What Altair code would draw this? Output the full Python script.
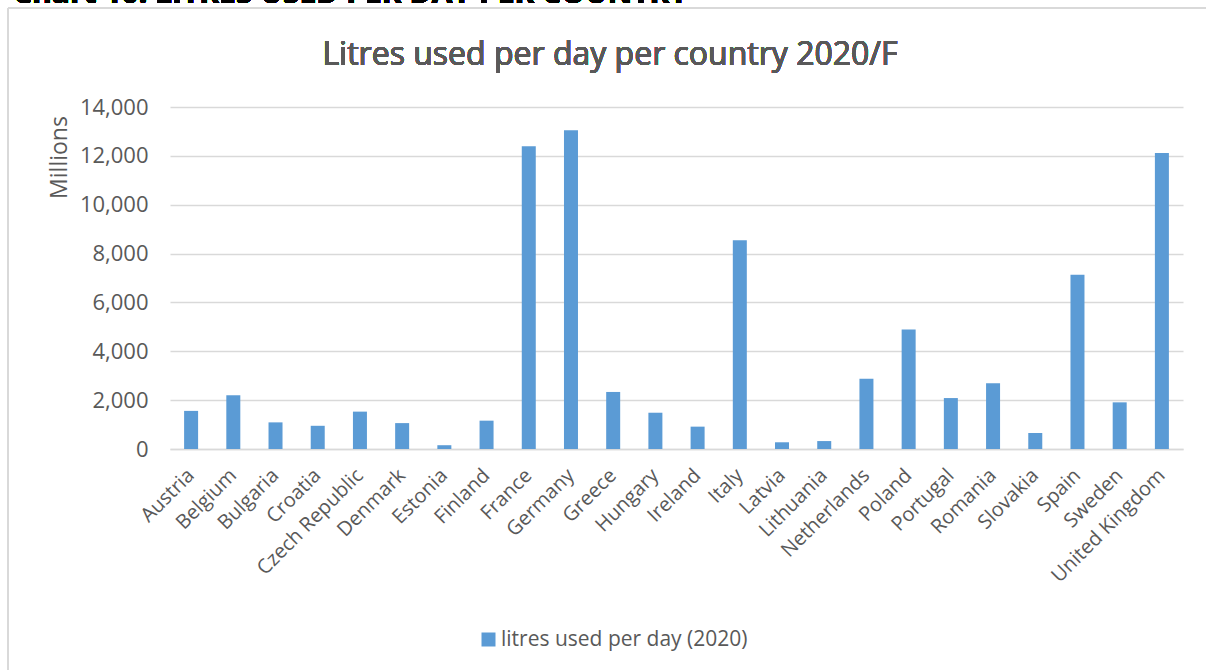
import altair as alt
import pandas as pd

countries = [
    "Austria", "Belgium", "Bulgaria", "Croatia", "Czech Republic", "Denmark",
    "Estonia", "Finland", "France", "Germany", "Greece", "Hungary", "Ireland",
    "Italy", "Latvia", "Lithuania", "Netherlands", "Poland", "Portugal",
    "Romania", "Slovakia", "Spain", "Sweden", "United Kingdom",
]
# litres used per day, millions
litres_2020 = [
    1560, 2200, 1090, 950, 1530, 1060, 155, 1160, 12390, 13050, 2335, 1485,
    915, 8550, 275, 325, 2875, 4895, 2085, 2690, 655, 7130, 1910, 12120,
]
series_name = "litres used per day (2020)"
y_ticks = [0, 2000, 4000, 6000, 8000, 10000, 12000, 14000]
chart_title = "Litres used per day per country 2020/F"
doc_heading = "Chart 10: LITRES USED PER DAY PER COUNTRY"

df = pd.DataFrame({"country": countries, "litres": litres_2020, "series": series_name})

W, H = 1013, 342
PAD = {"left": 170, "top": 107, "right": 23, "bottom": 221}
FONT = "Open Sans"
GREY = "#595959"
LINE = "#D9D9D9"

bars = alt.Chart(df).mark_bar(size=14, color="#5B9BD5").encode(
    x=alt.X(
        "country:N",
        sort=countries,
        scale=alt.Scale(paddingInner=0, paddingOuter=0),
        axis=alt.Axis(
            title=None, labelAngle=-45, labelAlign="right", labelBaseline="middle",
            labelFontSize=20, labelColor=GREY, labelFont=FONT, labelPadding=23,
            ticks=False, domainColor=LINE, domainWidth=1.3, labelOverlap=False,
            labelLimit=0,
        ),
    ),
    y=alt.Y(
        "litres:Q",
        scale=alt.Scale(domain=[0, 14000], nice=False),
        axis=alt.Axis(
            values=y_ticks, format=",d", title="Millions", titleFont=FONT,
            titleFontSize=23, titleFontWeight="normal", titleColor=GREY,
            titleAngle=-90, titleX=-111, titleY=50, titleAlign="center",
            titleBaseline="middle", labelFont=FONT, labelFontSize=22,
            labelColor=GREY, labelPadding=22, ticks=False, domain=False,
            gridColor=LINE, gridWidth=1.3,
        ),
    ),
    color=alt.Color(
        "series:N",
        scale=alt.Scale(range=["#5B9BD5"]),
        legend=alt.Legend(
            title=None, orient="none", legendX=308, legendY=522,
            symbolType="square", symbolSize=196, symbolStrokeWidth=0,
            labelFont=FONT, labelFontSize=21, labelColor=GREY, labelOffset=2,
            labelLimit=0,
        ),
    ),
)

# frame lines around the chart area
frame_left = alt.Chart(df).mark_rule(color=LINE, strokeWidth=1.5).encode(
    x=alt.value(8 - PAD["left"]), y=alt.value(8 - PAD["top"]), y2=alt.value(H + PAD["bottom"])
)
frame_top = alt.Chart(df).mark_rule(color=LINE, strokeWidth=1.5).encode(
    x=alt.value(8 - PAD["left"]), x2=alt.value(W + PAD["right"]), y=alt.value(8 - PAD["top"])
)

# chart title inside the frame
title_text = alt.Chart(df).mark_text(
    text=chart_title, align="center", baseline="alphabetic",
    font=FONT, fontSize=32, color=GREY,
).encode(x=alt.value(610 - PAD["left"]), y=alt.value(65 - PAD["top"]))

# document heading above the chart frame
heading = alt.Chart(df).mark_text(
    text=doc_heading, align="left", baseline="alphabetic",
    font=FONT, fontSize=30, fontWeight="bold", color="#000000",
).encode(x=alt.value(13 - PAD["left"]), y=alt.value(3 - PAD["top"]))

chart = alt.layer(bars, frame_left, frame_top, title_text, heading).properties(
    width=W,
    height=H,
    padding=PAD,
    autosize=alt.AutoSizeParams(type="none"),
).configure_view(stroke=None)

chart.save("out.html", embed_options={"renderer": "svg", "actions": False})
